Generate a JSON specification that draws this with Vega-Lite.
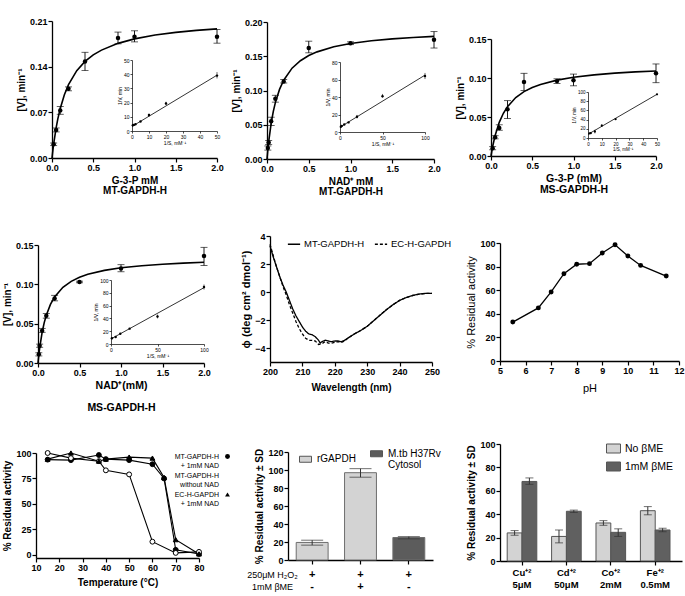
{
  "$schema": "https://vega.github.io/schema/vega-lite/v6.json",
  "width": 685,
  "height": 596,
  "autosize": "none",
  "padding": 0,
  "background": "white",
  "config": {
    "font": "Liberation Sans",
    "view": {"stroke": null},
    "axis": {
      "grid": false, "domainColor": "black", "tickColor": "black", "labelColor": "black", "titleColor": "black",
      "labelFontSize": 9, "labelFontWeight": "bold", "titleFontSize": 10, "titleFontWeight": "bold",
      "tickSize": 4, "labelPadding": 1, "titlePadding": 3, "domainWidth": 1.3, "tickWidth": 1.2,
      "labelFlush": false, "labelOverlap": false
    },
    "legend": {"padding": 0, "labelColor": "black", "labelFontWeight": "normal"}
  },
  "datasets": {
    "aPts": [
      {"x": 0.02, "y": 0.021, "lo": 0.019, "hi": 0.023},
      {"x": 0.05, "y": 0.043, "lo": 0.040, "hi": 0.046},
      {"x": 0.1, "y": 0.073, "lo": 0.067, "hi": 0.079},
      {"x": 0.2, "y": 0.106, "lo": 0.103, "hi": 0.109},
      {"x": 0.4, "y": 0.148, "lo": 0.134, "hi": 0.162},
      {"x": 0.8, "y": 0.184, "lo": 0.175, "hi": 0.193},
      {"x": 1.0, "y": 0.186, "lo": 0.178, "hi": 0.195},
      {"x": 2.0, "y": 0.186, "lo": 0.176, "hi": 0.197}
    ],
    "aCurve": [
      {"x": 0, "y": 0}, {"x": 0.01, "y": 0.0111}, {"x": 0.02, "y": 0.0211}, {"x": 0.05, "y": 0.0461}, {"x": 0.07, "y": 0.0595},
      {"x": 0.1, "y": 0.076}, {"x": 0.15, "y": 0.097}, {"x": 0.2, "y": 0.1125}, {"x": 0.3, "y": 0.1339}, {"x": 0.4, "y": 0.148},
      {"x": 0.5, "y": 0.158}, {"x": 0.6, "y": 0.1654}, {"x": 0.8, "y": 0.1757}, {"x": 1.0, "y": 0.1826}, {"x": 1.25, "y": 0.1885},
      {"x": 1.5, "y": 0.1926}, {"x": 1.75, "y": 0.1957}, {"x": 2.0, "y": 0.198}
    ],
    "aIn": [
      {"x": 0.5, "y": 4.0, "lo": 4.0, "hi": 4.0}, {"x": 1, "y": 4.3, "lo": 4.3, "hi": 4.3}, {"x": 2, "y": 4.8, "lo": 4.8, "hi": 4.8},
      {"x": 5, "y": 6.7, "lo": 6.7, "hi": 6.7}, {"x": 10, "y": 11.2, "lo": 10.2, "hi": 12.2}, {"x": 20, "y": 19.4, "lo": 18.4, "hi": 20.6},
      {"x": 50, "y": 39, "lo": 37, "hi": 41.5}
    ],
    "aInLine": [{"x": 0, "y": 3.2}, {"x": 50, "y": 39.3}],
    "bPts": [
      {"x": 0.01, "y": 0.016, "lo": 0.013, "hi": 0.019},
      {"x": 0.02, "y": 0.024, "lo": 0.021, "hi": 0.027},
      {"x": 0.05, "y": 0.055, "lo": 0.049, "hi": 0.061},
      {"x": 0.1, "y": 0.088, "lo": 0.083, "hi": 0.093},
      {"x": 0.2, "y": 0.113, "lo": 0.111, "hi": 0.116},
      {"x": 0.5, "y": 0.162, "lo": 0.155, "hi": 0.172},
      {"x": 1.0, "y": 0.169, "lo": 0.167, "hi": 0.171},
      {"x": 2.0, "y": 0.174, "lo": 0.162, "hi": 0.186}
    ],
    "bCurve": [
      {"x": 0, "y": 0}, {"x": 0.01, "y": 0.0135}, {"x": 0.02, "y": 0.0251}, {"x": 0.05, "y": 0.0525}, {"x": 0.075, "y": 0.0692},
      {"x": 0.1, "y": 0.0823}, {"x": 0.15, "y": 0.1016}, {"x": 0.2, "y": 0.115}, {"x": 0.3, "y": 0.1326}, {"x": 0.4, "y": 0.1435},
      {"x": 0.5, "y": 0.151}, {"x": 0.6, "y": 0.1564}, {"x": 0.8, "y": 0.1638}, {"x": 1.0, "y": 0.1686}, {"x": 1.25, "y": 0.1726},
      {"x": 1.5, "y": 0.1754}, {"x": 1.75, "y": 0.1774}, {"x": 2.0, "y": 0.179}
    ],
    "bIn": [
      {"x": 1, "y": 6, "lo": 6, "hi": 6}, {"x": 2, "y": 7, "lo": 7, "hi": 7}, {"x": 5, "y": 8.5, "lo": 8.5, "hi": 8.5},
      {"x": 10, "y": 11, "lo": 11, "hi": 11}, {"x": 20, "y": 17.5, "lo": 15.5, "hi": 19.5}, {"x": 50, "y": 41, "lo": 39, "hi": 43.5},
      {"x": 100, "y": 64, "lo": 60.5, "hi": 67.5}
    ],
    "bInLine": [{"x": 0, "y": 5.5}, {"x": 100, "y": 65}],
    "cPts": [
      {"x": 0.02, "y": 0.010, "lo": 0.008, "hi": 0.012},
      {"x": 0.05, "y": 0.024, "lo": 0.022, "hi": 0.026},
      {"x": 0.1, "y": 0.036, "lo": 0.033, "hi": 0.040},
      {"x": 0.2, "y": 0.060, "lo": 0.048, "hi": 0.071},
      {"x": 0.4, "y": 0.095, "lo": 0.084, "hi": 0.106},
      {"x": 0.8, "y": 0.096, "lo": 0.093, "hi": 0.099},
      {"x": 1.0, "y": 0.097, "lo": 0.090, "hi": 0.105},
      {"x": 2.0, "y": 0.106, "lo": 0.094, "hi": 0.118}
    ],
    "cCurve": [
      {"x": 0, "y": 0}, {"x": 0.01, "y": 0.0064}, {"x": 0.02, "y": 0.0122}, {"x": 0.05, "y": 0.0264}, {"x": 0.1, "y": 0.0432},
      {"x": 0.15, "y": 0.0548}, {"x": 0.2, "y": 0.0633}, {"x": 0.3, "y": 0.0749}, {"x": 0.4, "y": 0.0825}, {"x": 0.5, "y": 0.0878},
      {"x": 0.6, "y": 0.0918}, {"x": 0.8, "y": 0.0973}, {"x": 1.0, "y": 0.1009}, {"x": 1.25, "y": 0.104}, {"x": 1.5, "y": 0.1062},
      {"x": 1.75, "y": 0.1078}, {"x": 2.0, "y": 0.109}
    ],
    "cIn": [
      {"x": 1, "y": 10, "lo": 10, "hi": 10}, {"x": 2, "y": 10.5, "lo": 10.5, "hi": 10.5}, {"x": 5, "y": 14, "lo": 10, "hi": 18},
      {"x": 10, "y": 27, "lo": 24, "hi": 30}, {"x": 20, "y": 41, "lo": 41, "hi": 41}, {"x": 50, "y": 95, "lo": 95, "hi": 95}
    ],
    "cInLine": [{"x": 0, "y": 8}, {"x": 50, "y": 95}],
    "dPts": [
      {"x": 0.01, "y": 0.011, "lo": 0.009, "hi": 0.013},
      {"x": 0.02, "y": 0.022, "lo": 0.020, "hi": 0.024},
      {"x": 0.05, "y": 0.041, "lo": 0.039, "hi": 0.044},
      {"x": 0.1, "y": 0.060, "lo": 0.057, "hi": 0.063},
      {"x": 0.2, "y": 0.082, "lo": 0.079, "hi": 0.086},
      {"x": 0.5, "y": 0.103, "lo": 0.102, "hi": 0.104},
      {"x": 1.0, "y": 0.120, "lo": 0.116, "hi": 0.125},
      {"x": 2.0, "y": 0.136, "lo": 0.124, "hi": 0.147}
    ],
    "dCurve": [
      {"x": 0, "y": 0}, {"x": 0.01, "y": 0.0102}, {"x": 0.02, "y": 0.0189}, {"x": 0.05, "y": 0.0391}, {"x": 0.075, "y": 0.0513},
      {"x": 0.1, "y": 0.0608}, {"x": 0.15, "y": 0.0745}, {"x": 0.2, "y": 0.084}, {"x": 0.3, "y": 0.0962}, {"x": 0.4, "y": 0.1038},
      {"x": 0.5, "y": 0.109}, {"x": 0.6, "y": 0.1127}, {"x": 0.8, "y": 0.1177}, {"x": 1.0, "y": 0.121}, {"x": 1.25, "y": 0.1237},
      {"x": 1.5, "y": 0.1256}, {"x": 1.75, "y": 0.1269}, {"x": 2.0, "y": 0.128}
    ],
    "dIn": [
      {"x": 1, "y": 9, "lo": 9, "hi": 9}, {"x": 5, "y": 11, "lo": 11, "hi": 11}, {"x": 10, "y": 16, "lo": 16, "hi": 16},
      {"x": 20, "y": 24, "lo": 24, "hi": 24}, {"x": 50, "y": 43, "lo": 40, "hi": 46}, {"x": 100, "y": 89, "lo": 85, "hi": 93}
    ],
    "dInLine": [{"x": 0, "y": 8}, {"x": 100, "y": 88}],
    "eCD": [
      {"s": "MT-GAPDH-H", "wl": 200, "v": 3.3}, {"s": "MT-GAPDH-H", "wl": 201, "v": 2.5}, {"s": "MT-GAPDH-H", "wl": 202, "v": 1.8},
      {"s": "MT-GAPDH-H", "wl": 203, "v": 1.1}, {"s": "MT-GAPDH-H", "wl": 204, "v": 0.5}, {"s": "MT-GAPDH-H", "wl": 205, "v": 0.0},
      {"s": "MT-GAPDH-H", "wl": 206, "v": -0.6}, {"s": "MT-GAPDH-H", "wl": 207, "v": -1.2}, {"s": "MT-GAPDH-H", "wl": 208, "v": -1.7},
      {"s": "MT-GAPDH-H", "wl": 209, "v": -2.1}, {"s": "MT-GAPDH-H", "wl": 210, "v": -2.5}, {"s": "MT-GAPDH-H", "wl": 211, "v": -2.8},
      {"s": "MT-GAPDH-H", "wl": 212, "v": -3.0}, {"s": "MT-GAPDH-H", "wl": 213, "v": -3.05}, {"s": "MT-GAPDH-H", "wl": 214, "v": -3.2},
      {"s": "MT-GAPDH-H", "wl": 215, "v": -3.45}, {"s": "MT-GAPDH-H", "wl": 215.5, "v": -3.65}, {"s": "MT-GAPDH-H", "wl": 216, "v": -3.55},
      {"s": "MT-GAPDH-H", "wl": 217, "v": -3.45}, {"s": "MT-GAPDH-H", "wl": 218, "v": -3.5}, {"s": "MT-GAPDH-H", "wl": 219, "v": -3.55},
      {"s": "MT-GAPDH-H", "wl": 220, "v": -3.5}, {"s": "MT-GAPDH-H", "wl": 221, "v": -3.5}, {"s": "MT-GAPDH-H", "wl": 222, "v": -3.55},
      {"s": "MT-GAPDH-H", "wl": 223, "v": -3.45}, {"s": "MT-GAPDH-H", "wl": 224, "v": -3.3}, {"s": "MT-GAPDH-H", "wl": 225, "v": -3.15},
      {"s": "MT-GAPDH-H", "wl": 226, "v": -3.0}, {"s": "MT-GAPDH-H", "wl": 228, "v": -2.75}, {"s": "MT-GAPDH-H", "wl": 230, "v": -2.45},
      {"s": "MT-GAPDH-H", "wl": 232, "v": -2.05}, {"s": "MT-GAPDH-H", "wl": 234, "v": -1.65}, {"s": "MT-GAPDH-H", "wl": 236, "v": -1.25},
      {"s": "MT-GAPDH-H", "wl": 238, "v": -0.9}, {"s": "MT-GAPDH-H", "wl": 240, "v": -0.6}, {"s": "MT-GAPDH-H", "wl": 242, "v": -0.4},
      {"s": "MT-GAPDH-H", "wl": 244, "v": -0.25}, {"s": "MT-GAPDH-H", "wl": 246, "v": -0.15}, {"s": "MT-GAPDH-H", "wl": 248, "v": -0.1},
      {"s": "MT-GAPDH-H", "wl": 250, "v": -0.1},
      {"s": "EC-H-GAPDH", "wl": 200, "v": 3.4}, {"s": "EC-H-GAPDH", "wl": 201, "v": 2.6}, {"s": "EC-H-GAPDH", "wl": 202, "v": 1.8},
      {"s": "EC-H-GAPDH", "wl": 203, "v": 1.1}, {"s": "EC-H-GAPDH", "wl": 204, "v": 0.4}, {"s": "EC-H-GAPDH", "wl": 205, "v": -0.2},
      {"s": "EC-H-GAPDH", "wl": 206, "v": -0.9}, {"s": "EC-H-GAPDH", "wl": 207, "v": -1.5}, {"s": "EC-H-GAPDH", "wl": 208, "v": -2.1},
      {"s": "EC-H-GAPDH", "wl": 209, "v": -2.6}, {"s": "EC-H-GAPDH", "wl": 210, "v": -3.0}, {"s": "EC-H-GAPDH", "wl": 211, "v": -3.3},
      {"s": "EC-H-GAPDH", "wl": 212, "v": -3.45}, {"s": "EC-H-GAPDH", "wl": 213, "v": -3.45}, {"s": "EC-H-GAPDH", "wl": 214, "v": -3.5},
      {"s": "EC-H-GAPDH", "wl": 215, "v": -3.75}, {"s": "EC-H-GAPDH", "wl": 216, "v": -3.7}, {"s": "EC-H-GAPDH", "wl": 217, "v": -3.55},
      {"s": "EC-H-GAPDH", "wl": 218, "v": -3.65}, {"s": "EC-H-GAPDH", "wl": 219, "v": -3.65}, {"s": "EC-H-GAPDH", "wl": 220, "v": -3.6},
      {"s": "EC-H-GAPDH", "wl": 221, "v": -3.55}, {"s": "EC-H-GAPDH", "wl": 222, "v": -3.6}, {"s": "EC-H-GAPDH", "wl": 223, "v": -3.5},
      {"s": "EC-H-GAPDH", "wl": 224, "v": -3.3}, {"s": "EC-H-GAPDH", "wl": 225, "v": -3.15}, {"s": "EC-H-GAPDH", "wl": 226, "v": -3.0},
      {"s": "EC-H-GAPDH", "wl": 228, "v": -2.75}, {"s": "EC-H-GAPDH", "wl": 230, "v": -2.45}, {"s": "EC-H-GAPDH", "wl": 232, "v": -2.05},
      {"s": "EC-H-GAPDH", "wl": 234, "v": -1.65}, {"s": "EC-H-GAPDH", "wl": 236, "v": -1.25}, {"s": "EC-H-GAPDH", "wl": 238, "v": -0.9},
      {"s": "EC-H-GAPDH", "wl": 240, "v": -0.6}, {"s": "EC-H-GAPDH", "wl": 242, "v": -0.4}, {"s": "EC-H-GAPDH", "wl": 244, "v": -0.25},
      {"s": "EC-H-GAPDH", "wl": 246, "v": -0.15}, {"s": "EC-H-GAPDH", "wl": 248, "v": -0.1}, {"s": "EC-H-GAPDH", "wl": 250, "v": -0.1}
    ],
    "fPH": [
      {"ph": 5.5, "v": 33}, {"ph": 6.5, "v": 45}, {"ph": 7, "v": 58.5}, {"ph": 7.5, "v": 74}, {"ph": 8, "v": 82}, {"ph": 8.5, "v": 82.5},
      {"ph": 9, "v": 91.5}, {"ph": 9.5, "v": 98.5}, {"ph": 10, "v": 89}, {"ph": 10.5, "v": 81}, {"ph": 11.5, "v": 72}
    ],
    "gTemp": [
      {"s": "MT-GAPDH-H|+ 1mM NAD", "t": 15, "v": 93.5}, {"s": "MT-GAPDH-H|+ 1mM NAD", "t": 25, "v": 93}, {"s": "MT-GAPDH-H|+ 1mM NAD", "t": 37, "v": 98},
      {"s": "MT-GAPDH-H|+ 1mM NAD", "t": 40, "v": 94}, {"s": "MT-GAPDH-H|+ 1mM NAD", "t": 50, "v": 93}, {"s": "MT-GAPDH-H|+ 1mM NAD", "t": 60, "v": 89},
      {"s": "MT-GAPDH-H|+ 1mM NAD", "t": 65, "v": 75}, {"s": "MT-GAPDH-H|+ 1mM NAD", "t": 70, "v": 5}, {"s": "MT-GAPDH-H|+ 1mM NAD", "t": 80, "v": 1},
      {"s": "MT-GAPDH-H|without NAD", "t": 15, "v": 100}, {"s": "MT-GAPDH-H|without NAD", "t": 25, "v": 95}, {"s": "MT-GAPDH-H|without NAD", "t": 37, "v": 92},
      {"s": "MT-GAPDH-H|without NAD", "t": 40, "v": 83}, {"s": "MT-GAPDH-H|without NAD", "t": 50, "v": 79}, {"s": "MT-GAPDH-H|without NAD", "t": 60, "v": 13},
      {"s": "MT-GAPDH-H|without NAD", "t": 70, "v": 2}, {"s": "MT-GAPDH-H|without NAD", "t": 80, "v": 3},
      {"s": "EC-H-GAPDH|+ 1mM NAD", "t": 15, "v": 94}, {"s": "EC-H-GAPDH|+ 1mM NAD", "t": 25, "v": 100}, {"s": "EC-H-GAPDH|+ 1mM NAD", "t": 37, "v": 92},
      {"s": "EC-H-GAPDH|+ 1mM NAD", "t": 40, "v": 94}, {"s": "EC-H-GAPDH|+ 1mM NAD", "t": 50, "v": 96}, {"s": "EC-H-GAPDH|+ 1mM NAD", "t": 60, "v": 95},
      {"s": "EC-H-GAPDH|+ 1mM NAD", "t": 65, "v": 76}, {"s": "EC-H-GAPDH|+ 1mM NAD", "t": 70, "v": 15}, {"s": "EC-H-GAPDH|+ 1mM NAD", "t": 80, "v": 1}
    ],
    "hBars": [
      {"cond": "A", "grp": "rGAPDH", "v": 19.5, "lo": 16.5, "hi": 22},
      {"cond": "B", "grp": "rGAPDH", "v": 97, "lo": 92, "hi": 101.5},
      {"cond": "C", "grp": "M.tb H37Rv|Cytosol", "v": 25, "lo": 23.5, "hi": 26}
    ],
    "iBars": [
      {"ion": "Cu⁺²|5μM", "t": "No βME", "v": 24, "lo": 22, "hi": 26},
      {"ion": "Cu⁺²|5μM", "t": "1mM βME", "v": 68, "lo": 65.5, "hi": 71},
      {"ion": "Cd⁺²|50μM", "t": "No βME", "v": 21, "lo": 15.5, "hi": 26.5},
      {"ion": "Cd⁺²|50μM", "t": "1mM βME", "v": 42.5, "lo": 41.5, "hi": 43.5},
      {"ion": "Co⁺²|2mM", "t": "No βME", "v": 32.5, "lo": 30.5, "hi": 34.5},
      {"ion": "Co⁺²|2mM", "t": "1mM βME", "v": 24.5, "lo": 21, "hi": 27.5},
      {"ion": "Fe⁺²|0.5mM", "t": "No βME", "v": 43, "lo": 39.5, "hi": 46.5},
      {"ion": "Fe⁺²|0.5mM", "t": "1mM βME", "v": 26.5, "lo": 25, "hi": 28}
    ]
  },
  "resolve": {
    "scale": {"x": "independent", "y": "independent", "fill": "independent", "shape": "independent", "strokeDash": "independent"},
    "axis": {"x": "independent", "y": "independent"},
    "legend": {"fill": "independent", "shape": "independent", "strokeDash": "independent"}
  },
  "layer": [
    {
      "data": {"name": "aPts"},
      "encoding": {
        "x": {"field": "x", "type": "quantitative", "scale": {"domain": [0, 2], "range": [52, 217], "nice": false, "zero": false},
              "axis": {"orient": "bottom", "offset": -438, "values": [0, 0.5, 1, 1.5, 2], "format": ".1f", "title": ["G-3-P  mM", "MT-GAPDH-H"], "titleLineHeight": 10}},
        "y": {"field": "y", "type": "quantitative", "scale": {"domain": [0, 0.21], "range": [158, 21], "nice": false, "zero": false},
              "axis": {"orient": "left", "offset": -52, "values": [0, 0.07, 0.14, 0.21], "format": ".2f", "title": "[V], min⁻¹"}}
      },
      "layer": [
        {"data": {"name": "aCurve"}, "mark": {"type": "line", "color": "black", "strokeWidth": 1.6}},
        {"mark": {"type": "rule", "color": "black", "strokeWidth": 0.9}, "encoding": {"y": {"field": "lo", "type": "quantitative"}, "y2": {"field": "hi"}}},
        {"mark": {"type": "tick", "orient": "horizontal", "color": "black", "size": 7, "thickness": 0.9}, "encoding": {"y": {"field": "lo", "type": "quantitative"}}},
        {"mark": {"type": "tick", "orient": "horizontal", "color": "black", "size": 7, "thickness": 0.9}, "encoding": {"y": {"field": "hi", "type": "quantitative"}}},
        {"mark": {"type": "point", "filled": true, "color": "black", "size": 20, "opacity": 1}},
        {"data": {"values": [{}]}, "mark": {"type": "text", "text": "a", "fontSize": 17, "fontWeight": "bold", "align": "left", "baseline": "alphabetic"},
         "encoding": {"x": {"datum": -0.594}, "y": {"datum": 0.2207}}}
      ]
    },
    {
      "data": {"name": "bPts"},
      "encoding": {
        "x": {"field": "x", "type": "quantitative", "scale": {"domain": [0, 2], "range": [267, 434], "nice": false, "zero": false},
              "axis": {"orient": "bottom", "offset": -437, "values": [0, 0.5, 1, 1.5, 2], "format": ".1f", "title": ["NAD⁺  mM", "MT-GAPDH-H"], "titleLineHeight": 10}},
        "y": {"field": "y", "type": "quantitative", "scale": {"domain": [0, 0.2], "range": [159, 22], "nice": false, "zero": false},
              "axis": {"orient": "left", "offset": -267, "values": [0, 0.05, 0.1, 0.15, 0.2], "format": ".2f", "title": "[V], min⁻¹"}}
      },
      "layer": [
        {"data": {"name": "bCurve"}, "mark": {"type": "line", "color": "black", "strokeWidth": 1.6}},
        {"mark": {"type": "rule", "color": "black", "strokeWidth": 0.9}, "encoding": {"y": {"field": "lo", "type": "quantitative"}, "y2": {"field": "hi"}}},
        {"mark": {"type": "tick", "orient": "horizontal", "color": "black", "size": 7, "thickness": 0.9}, "encoding": {"y": {"field": "lo", "type": "quantitative"}}},
        {"mark": {"type": "tick", "orient": "horizontal", "color": "black", "size": 7, "thickness": 0.9}, "encoding": {"y": {"field": "hi", "type": "quantitative"}}},
        {"mark": {"type": "point", "filled": true, "color": "black", "size": 20, "opacity": 1}},
        {"data": {"values": [{}]}, "mark": {"type": "text", "text": "b", "fontSize": 17, "fontWeight": "bold", "align": "left", "baseline": "alphabetic"},
         "encoding": {"x": {"datum": -0.479}, "y": {"datum": 0.2117}}}
      ]
    },
    {
      "data": {"name": "cPts"},
      "encoding": {
        "x": {"field": "x", "type": "quantitative", "scale": {"domain": [0, 2], "range": [491, 656], "nice": false, "zero": false},
              "axis": {"orient": "bottom", "offset": -440, "values": [0, 0.5, 1, 1.5, 2], "format": ".1f", "title": ["G-3-P (mM)", "MS-GAPDH-H"], "titleLineHeight": 11, "titleFontSize": 10.5}},
        "y": {"field": "y", "type": "quantitative", "scale": {"domain": [0, 0.15], "range": [156, 39], "nice": false, "zero": false},
              "axis": {"orient": "left", "offset": -491, "values": [0, 0.05, 0.1, 0.15], "format": ".2f", "title": "[V], min⁻¹"}}
      },
      "layer": [
        {"data": {"name": "cCurve"}, "mark": {"type": "line", "color": "black", "strokeWidth": 1.6}},
        {"mark": {"type": "rule", "color": "black", "strokeWidth": 0.9}, "encoding": {"y": {"field": "lo", "type": "quantitative"}, "y2": {"field": "hi"}}},
        {"mark": {"type": "tick", "orient": "horizontal", "color": "black", "size": 7, "thickness": 0.9}, "encoding": {"y": {"field": "lo", "type": "quantitative"}}},
        {"mark": {"type": "tick", "orient": "horizontal", "color": "black", "size": 7, "thickness": 0.9}, "encoding": {"y": {"field": "hi", "type": "quantitative"}}},
        {"mark": {"type": "point", "filled": true, "color": "black", "size": 20, "opacity": 1}},
        {"data": {"values": [{}]}, "mark": {"type": "text", "text": "c", "fontSize": 17, "fontWeight": "bold", "align": "left", "baseline": "alphabetic"},
         "encoding": {"x": {"datum": -0.412}, "y": {"datum": 0.1846}}}
      ]
    },
    {
      "data": {"name": "dPts"},
      "encoding": {
        "x": {"field": "x", "type": "quantitative", "scale": {"domain": [0, 2], "range": [38, 204], "nice": false, "zero": false},
              "axis": {"orient": "bottom", "offset": -233, "values": [0, 0.5, 1, 1.5, 2], "format": ".1f", "title": ["NAD⁺(mM)", "MS-GAPDH-H"], "titleLineHeight": 22, "titleFontSize": 10.5}},
        "y": {"field": "y", "type": "quantitative", "scale": {"domain": [0, 0.15], "range": [363, 245], "nice": false, "zero": false},
              "axis": {"orient": "left", "offset": -38, "values": [0, 0.05, 0.1, 0.15], "format": ".2f", "title": "[V], min⁻¹"}}
      },
      "layer": [
        {"data": {"name": "dCurve"}, "mark": {"type": "line", "color": "black", "strokeWidth": 1.6}},
        {"mark": {"type": "rule", "color": "black", "strokeWidth": 0.9}, "encoding": {"y": {"field": "lo", "type": "quantitative"}, "y2": {"field": "hi"}}},
        {"mark": {"type": "tick", "orient": "horizontal", "color": "black", "size": 7, "thickness": 0.9}, "encoding": {"y": {"field": "lo", "type": "quantitative"}}},
        {"mark": {"type": "tick", "orient": "horizontal", "color": "black", "size": 7, "thickness": 0.9}, "encoding": {"y": {"field": "hi", "type": "quantitative"}}},
        {"mark": {"type": "point", "filled": true, "color": "black", "size": 20, "opacity": 1}},
        {"data": {"values": [{}]}, "mark": {"type": "text", "text": "d", "fontSize": 17, "fontWeight": "bold", "align": "left", "baseline": "alphabetic"},
         "encoding": {"x": {"datum": -0.422}, "y": {"datum": 0.1665}}}
      ]
    },
    {
      "data": {"name": "eCD"},
      "encoding": {
        "x": {"field": "wl", "type": "quantitative", "scale": {"domain": [200, 250], "range": [270, 432], "nice": false, "zero": false},
              "axis": {"orient": "bottom", "offset": -234, "values": [200, 210, 220, 230, 240, 250], "title": "Wavelength (nm)", "titlePadding": 6}},
        "y": {"field": "v", "type": "quantitative", "scale": {"domain": [-5, 4], "range": [362, 236], "nice": false, "zero": false},
              "axis": {"orient": "left", "offset": -270, "values": [-4, -2, 0, 2, 4], "title": "ϕ (deg cm² dmol⁻¹)", "titleFontSize": 11}}
      },
      "layer": [
        {"data": {"values": [{}]}, "mark": {"type": "rule", "color": "#8a8a8a", "strokeDash": [1.5, 1.5], "strokeWidth": 1},
         "encoding": {"x": {"datum": 200}, "x2": {"datum": 250}, "y": {"datum": 0}}},
        {"mark": {"type": "line", "color": "black", "strokeWidth": 1.3},
         "encoding": {"strokeDash": {"field": "s", "type": "nominal",
           "scale": {"domain": ["MT-GAPDH-H", "EC-H-GAPDH"], "range": [[1, 0], [3, 2]]},
           "legend": {"orient": "none", "legendX": 287, "legendY": 237, "direction": "horizontal", "title": null, "symbolType": "stroke",
                      "symbolSize": 150, "symbolStrokeColor": "black", "symbolStrokeWidth": 1.3, "labelFontSize": 9.5, "columnPadding": 7, "labelOffset": 3}}}},
        {"data": {"values": [{}]}, "mark": {"type": "text", "text": "e", "fontSize": 17, "fontWeight": "bold", "align": "left", "baseline": "alphabetic"},
         "encoding": {"x": {"datum": 190.74}, "y": {"datum": 4.571}}}
      ]
    },
    {
      "data": {"name": "fPH"},
      "encoding": {
        "x": {"field": "ph", "type": "quantitative", "scale": {"domain": [5, 12], "range": [500, 679], "nice": false, "zero": false},
              "axis": {"orient": "bottom", "offset": -235, "values": [5, 6, 7, 8, 9, 10, 11, 12], "title": "pH", "titleFontWeight": "normal", "titleFontSize": 11, "titlePadding": 7}},
        "y": {"field": "v", "type": "quantitative", "scale": {"domain": [0, 100], "range": [361, 243], "nice": false, "zero": false},
              "axis": {"orient": "left", "offset": -500, "values": [0, 20, 40, 60, 80, 100], "title": "% Residual activity", "titleFontWeight": "normal", "titleFontSize": 11}}
      },
      "layer": [
        {"mark": {"type": "line", "color": "black", "strokeWidth": 1.3}},
        {"mark": {"type": "point", "filled": true, "color": "black", "size": 24, "opacity": 1}},
        {"data": {"values": [{}]}, "mark": {"type": "text", "text": "f", "fontSize": 17, "fontWeight": "bold", "align": "left", "baseline": "alphabetic"},
         "encoding": {"x": {"datum": 3.553}, "y": {"datum": 111.9}}}
      ]
    },
    {
      "data": {"name": "gTemp"},
      "encoding": {
        "x": {"field": "t", "type": "quantitative", "scale": {"domain": [10, 80], "range": [36, 199], "nice": false, "zero": false},
              "axis": {"orient": "bottom", "offset": -38, "values": [10, 20, 30, 40, 50, 60, 70, 80], "title": "Temperature (°C)", "titlePadding": 5}},
        "y": {"field": "v", "type": "quantitative", "scale": {"domain": [-3, 100], "range": [558, 453], "nice": false, "zero": false},
              "axis": {"orient": "left", "offset": -36, "values": [0, 25, 50, 75, 100], "title": "% Residual activity"}}
      },
      "layer": [
        {"mark": {"type": "line", "color": "black", "strokeWidth": 1.1}, "encoding": {"detail": {"field": "s"}}},
        {"mark": {"type": "point", "filled": true, "stroke": "black", "strokeWidth": 1, "size": 24, "opacity": 1},
         "encoding": {
           "shape": {"field": "s", "type": "nominal",
             "scale": {"domain": ["MT-GAPDH-H|+ 1mM NAD", "MT-GAPDH-H|without NAD", "EC-H-GAPDH|+ 1mM NAD"], "range": ["circle", "circle", "triangle-up"]},
             "legend": {"orient": "none", "legendX": 224, "legendY": 453, "title": null, "direction": "vertical", "labelAlign": "right", "labelOffset": -12,
                        "labelExpr": "split(datum.label, '|')", "labelFontSize": 7, "rowPadding": 2, "symbolSize": 24, "symbolStrokeColor": "black", "symbolStrokeWidth": 1,
                        "encode": {"labels": {"update": {"lineHeight": {"value": 8}}}}}},
           "fill": {"field": "s", "type": "nominal",
             "scale": {"domain": ["MT-GAPDH-H|+ 1mM NAD", "MT-GAPDH-H|without NAD", "EC-H-GAPDH|+ 1mM NAD"], "range": ["black", "white", "black"]},
             "legend": {"orient": "none", "legendX": 224, "legendY": 453, "title": null, "direction": "vertical", "labelAlign": "right", "labelOffset": -12,
                        "labelExpr": "split(datum.label, '|')", "labelFontSize": 7, "rowPadding": 2, "symbolSize": 24, "symbolStrokeColor": "black", "symbolStrokeWidth": 1,
                        "encode": {"labels": {"update": {"lineHeight": {"value": 8}}}}}}
         }},
        {"data": {"values": [{}]}, "mark": {"type": "text", "text": "g", "fontSize": 17, "fontWeight": "bold", "align": "left", "baseline": "alphabetic"},
         "encoding": {"x": {"datum": -3.74}, "y": {"datum": 123.5}}}
      ]
    },
    {
      "data": {"name": "hBars"},
      "encoding": {
        "x": {"field": "cond", "type": "nominal", "scale": {"domain": ["A", "B", "C"], "range": [288, 433], "paddingInner": 0.34, "paddingOuter": 0.17},
              "axis": {"orient": "bottom", "offset": -36, "labelAngle": 0, "labelExpr": "datum.value == 'B' ? ['+', '+'] : ['+', '-']",
                       "labelFontSize": 11, "labelLineHeight": 12, "labelPadding": 4,
                       "title": ["250μM H₂O₂", "1mM βME"], "titleAngle": 0, "titleX": 272, "titleY": 10, "titleAlign": "center", "titleBaseline": "top",
                       "titleFontWeight": "normal", "titleFontSize": 9, "titleLineHeight": 12}},
        "y": {"field": "v", "type": "quantitative", "scale": {"domain": [0, 120], "range": [560, 452], "nice": false},
              "axis": {"orient": "left", "offset": -288, "values": [0, 20, 40, 60, 80, 100, 120], "title": "% Residual activity ± SD"}}
      },
      "layer": [
        {"mark": {"type": "bar", "stroke": "#6e6e6e", "strokeWidth": 1},
         "encoding": {"fill": {"field": "grp", "type": "nominal",
           "scale": {"domain": ["rGAPDH", "M.tb H37Rv|Cytosol"], "range": ["#d3d3d3", "#5c5c5c"]},
           "legend": {"orient": "none", "legendX": 300, "legendY": 448, "direction": "horizontal", "title": null,
                      "symbolType": "M-1.2,-0.6H1.2V0.6H-1.2Z", "symbolSize": 100, "symbolStrokeColor": "#555", "symbolStrokeWidth": 1,
                      "labelExpr": "split(datum.label, '|')", "labelFontSize": 10, "columnPadding": 12, "labelOffset": 6,
                      "encode": {"labels": {"update": {"lineHeight": {"value": 11}}}}}}}},
        {"mark": {"type": "rule", "color": "#333", "strokeWidth": 1}, "encoding": {"y": {"field": "lo", "type": "quantitative"}, "y2": {"field": "hi"}}},
        {"mark": {"type": "tick", "orient": "horizontal", "color": "#333", "size": 22, "thickness": 1}, "encoding": {"y": {"field": "lo", "type": "quantitative"}}},
        {"mark": {"type": "tick", "orient": "horizontal", "color": "#333", "size": 22, "thickness": 1}, "encoding": {"y": {"field": "hi", "type": "quantitative"}}},
        {"data": {"values": [{}]}, "mark": {"type": "text", "text": "h", "fontSize": 17, "fontWeight": "bold", "align": "left", "baseline": "alphabetic", "dx": -57},
         "encoding": {"x": {"datum": "A", "type": "nominal"}, "y": {"datum": 135.6}}}
      ]
    },
    {
      "data": {"name": "iBars"},
      "encoding": {
        "x": {"field": "ion", "type": "nominal",
              "scale": {"domain": ["Cu⁺²|5μM", "Cd⁺²|50μM", "Co⁺²|2mM", "Fe⁺²|0.5mM"], "range": [500, 682], "paddingInner": 0.333, "paddingOuter": 0.216, "align": 0.375},
              "axis": {"orient": "bottom", "offset": -35, "labelAngle": 0, "labelExpr": "split(datum.value, '|')", "labelLineHeight": 12, "labelFontSize": 9.5, "labelPadding": 2, "title": null}},
        "y": {"field": "v", "type": "quantitative", "scale": {"domain": [0, 100], "range": [561, 444], "nice": false},
              "axis": {"orient": "left", "offset": -500, "values": [0, 20, 40, 60, 80, 100], "title": "% Residual activity ± SD"}}
      },
      "layer": [
        {"mark": {"type": "bar", "stroke": "#555", "strokeWidth": 1},
         "encoding": {
           "xOffset": {"field": "t", "type": "nominal", "scale": {"domain": ["No βME", "1mM βME"]}},
           "fill": {"field": "t", "type": "nominal",
             "scale": {"domain": ["No βME", "1mM βME"], "range": ["#d3d3d3", "#606060"]},
             "legend": {"orient": "none", "legendX": 608, "legendY": 443, "direction": "vertical", "title": null,
                        "symbolType": "M-1.4,-0.9H1.4V0.9H-1.4Z", "symbolSize": 100, "symbolStrokeColor": "#555", "symbolStrokeWidth": 1,
                        "labelFontSize": 10.5, "rowPadding": 5, "labelOffset": 6}}}},
        {"mark": {"type": "rule", "color": "#333", "strokeWidth": 1},
         "encoding": {"xOffset": {"field": "t", "type": "nominal"}, "y": {"field": "lo", "type": "quantitative"}, "y2": {"field": "hi"}}},
        {"mark": {"type": "tick", "orient": "horizontal", "color": "#333", "size": 8, "thickness": 1},
         "encoding": {"xOffset": {"field": "t", "type": "nominal"}, "y": {"field": "lo", "type": "quantitative"}}},
        {"mark": {"type": "tick", "orient": "horizontal", "color": "#333", "size": 8, "thickness": 1},
         "encoding": {"xOffset": {"field": "t", "type": "nominal"}, "y": {"field": "hi", "type": "quantitative"}}},
        {"data": {"values": [{}]}, "mark": {"type": "text", "text": "i", "fontSize": 17, "fontWeight": "bold", "align": "left", "baseline": "alphabetic", "dx": -63},
         "encoding": {"x": {"datum": "Cu⁺²|5μM", "type": "nominal"}, "y": {"datum": 108.5}}}
      ]
    },
    {
      "data": {"name": "aIn"},
      "encoding": {
        "x": {"field": "x", "type": "quantitative", "scale": {"domain": [0, 50], "range": [132, 217], "nice": false, "zero": false},
              "axis": {"orient": "bottom", "offset": -465, "values": [0, 10, 20, 30, 40, 50], "title": "1/S, mM⁻¹", "labelFontSize": 5, "titleFontSize": 5, "tickSize": 2, "domainWidth": 0.7, "tickWidth": 0.7, "labelFontWeight": "normal", "titleFontWeight": "normal", "titlePadding": 1}},
        "y": {"field": "y", "type": "quantitative", "scale": {"domain": [0, 50], "range": [131, 60], "nice": false, "zero": false},
              "axis": {"orient": "left", "offset": -132, "values": [0, 10, 20, 30, 40, 50], "title": "1/V, min", "labelFontSize": 5, "titleFontSize": 5, "tickSize": 2, "domainWidth": 0.7, "tickWidth": 0.7, "labelFontWeight": "normal", "titleFontWeight": "normal", "titlePadding": 1}}
      },
      "layer": [
        {"data": {"name": "aInLine"}, "mark": {"type": "line", "color": "black", "strokeWidth": 0.8}},
        {"mark": {"type": "rule", "color": "black", "strokeWidth": 0.6}, "encoding": {"y": {"field": "lo", "type": "quantitative"}, "y2": {"field": "hi"}}},
        {"mark": {"type": "point", "filled": true, "color": "black", "size": 6, "opacity": 1}}
      ]
    },
    {
      "data": {"name": "bIn"},
      "encoding": {
        "x": {"field": "x", "type": "quantitative", "scale": {"domain": [0, 100], "range": [340, 425], "nice": false, "zero": false},
              "axis": {"orient": "bottom", "offset": -464, "values": [0, 50, 100], "title": "1/S, mM⁻¹", "labelFontSize": 5, "titleFontSize": 5, "tickSize": 2, "domainWidth": 0.7, "tickWidth": 0.7, "labelFontWeight": "normal", "titleFontWeight": "normal", "titlePadding": 1}},
        "y": {"field": "y", "type": "quantitative", "scale": {"domain": [0, 80], "range": [132, 62], "nice": false, "zero": false},
              "axis": {"orient": "left", "offset": -340, "values": [0, 20, 40, 60, 80], "title": "1/V, min", "labelFontSize": 5, "titleFontSize": 5, "tickSize": 2, "domainWidth": 0.7, "tickWidth": 0.7, "labelFontWeight": "normal", "titleFontWeight": "normal", "titlePadding": 1}}
      },
      "layer": [
        {"data": {"name": "bInLine"}, "mark": {"type": "line", "color": "black", "strokeWidth": 0.8}},
        {"mark": {"type": "rule", "color": "black", "strokeWidth": 0.6}, "encoding": {"y": {"field": "lo", "type": "quantitative"}, "y2": {"field": "hi"}}},
        {"mark": {"type": "point", "filled": true, "color": "black", "size": 6, "opacity": 1}}
      ]
    },
    {
      "data": {"name": "cIn"},
      "encoding": {
        "x": {"field": "x", "type": "quantitative", "scale": {"domain": [0, 50], "range": [588, 657], "nice": false, "zero": false},
              "axis": {"orient": "bottom", "offset": -458, "values": [0, 10, 20, 30, 40, 50], "title": "1/S, mM⁻¹", "labelFontSize": 4.5, "titleFontSize": 4.5, "tickSize": 2, "domainWidth": 0.7, "tickWidth": 0.7, "labelFontWeight": "normal", "titleFontWeight": "normal", "titlePadding": 1}},
        "y": {"field": "y", "type": "quantitative", "scale": {"domain": [0, 100], "range": [138, 92], "nice": false, "zero": false},
              "axis": {"orient": "left", "offset": -588, "values": [0, 20, 40, 60, 80, 100], "title": "1/V, min", "labelFontSize": 4.5, "titleFontSize": 4.5, "tickSize": 2, "domainWidth": 0.7, "tickWidth": 0.7, "labelFontWeight": "normal", "titleFontWeight": "normal", "titlePadding": 1}}
      },
      "layer": [
        {"data": {"name": "cInLine"}, "mark": {"type": "line", "color": "black", "strokeWidth": 0.8}},
        {"mark": {"type": "rule", "color": "black", "strokeWidth": 0.6}, "encoding": {"y": {"field": "lo", "type": "quantitative"}, "y2": {"field": "hi"}}},
        {"mark": {"type": "point", "filled": true, "color": "black", "size": 5, "opacity": 1}}
      ]
    },
    {
      "data": {"name": "dIn"},
      "encoding": {
        "x": {"field": "x", "type": "quantitative", "scale": {"domain": [0, 100], "range": [111, 204], "nice": false, "zero": false},
              "axis": {"orient": "bottom", "offset": -252, "values": [0, 50, 100], "title": "1/S, mM⁻¹", "labelFontSize": 5, "titleFontSize": 5, "tickSize": 2, "domainWidth": 0.7, "tickWidth": 0.7, "labelFontWeight": "normal", "titleFontWeight": "normal", "titlePadding": 1}},
        "y": {"field": "y", "type": "quantitative", "scale": {"domain": [0, 100], "range": [344, 280], "nice": false, "zero": false},
              "axis": {"orient": "left", "offset": -111, "values": [0, 20, 40, 60, 80, 100], "title": "1/V, min", "labelFontSize": 5, "titleFontSize": 5, "tickSize": 2, "domainWidth": 0.7, "tickWidth": 0.7, "labelFontWeight": "normal", "titleFontWeight": "normal", "titlePadding": 1}}
      },
      "layer": [
        {"data": {"name": "dInLine"}, "mark": {"type": "line", "color": "black", "strokeWidth": 0.8}},
        {"mark": {"type": "rule", "color": "black", "strokeWidth": 0.6}, "encoding": {"y": {"field": "lo", "type": "quantitative"}, "y2": {"field": "hi"}}},
        {"mark": {"type": "point", "filled": true, "color": "black", "size": 6, "opacity": 1}}
      ]
    }
  ]
}
